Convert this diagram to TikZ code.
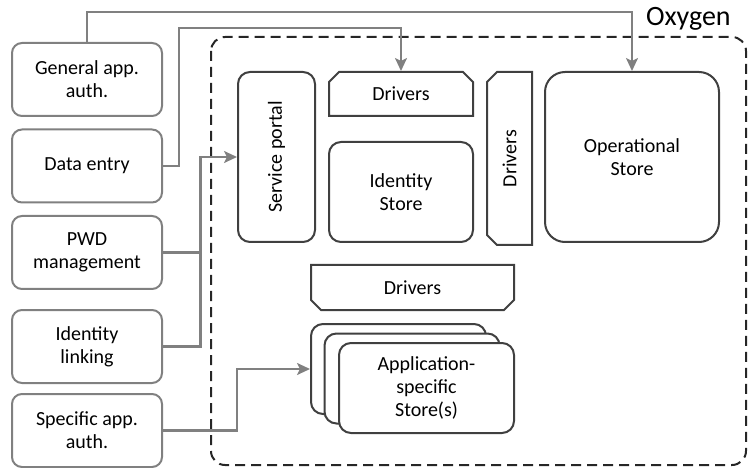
\documentclass[tikz,border=0pt]{standalone}
\usepackage{fontspec}
\setmainfont{Carlito}
\usepackage{tikz}
\usetikzlibrary{calc,shapes.misc,arrows.meta}
\usepackage{color}
\definecolor{linegray}{RGB}{128,128,128}
\definecolor{boxdark}{RGB}{64,64,64}

\begin{document}
\begin{tikzpicture}[x=1pt,y=-1pt]
\tikzstyle{client}=[draw=linegray,line width=2pt,rounded corners=10pt,minimum width=150pt,minimum height=73pt,align=center,font=\fontsize{20}{23}\selectfont]

\tikzstyle{store}=[draw=boxdark,line width=2pt,fill=white,rounded corners=12pt,align=center,font=\fontsize{20}{23}\selectfont]

\tikzstyle{driver}=[draw=boxdark,line width=2pt,chamfered rectangle,chamfered rectangle xsep=5pt,chamfered rectangle ysep=5pt,inner sep=0pt,font=\fontsize{20}{23}\selectfont]

\tikzstyle{conn}=[draw=linegray,line width=2.2pt,-{Stealth[length=13pt,width=12pt,inset=3pt]}]

\useasboundingbox (0,0) rectangle (748,468);

\draw [black!85,line width=2pt,dash pattern=on 10pt off 6pt,rounded corners=14pt] (211,37) rectangle (746,465);
\node (oxygen) [font=\fontsize{28}{32}\selectfont,anchor=west,inner sep=0pt] at (646,19) {Oxygen};

\node (gen) [client] at (87,79.5) {General app.\\auth.};
\node (data) [client] at (87,166) {Data entry};
\node (pwd) [client] at (87,252.5) {PWD\\management};
\node (link) [client] at (87,346.5) {Identity\\linking};
\node (spec) [client] at (87,430.5) {Specific app.\\auth.};

\node (portal) [store,rotate=90,minimum width=170pt,minimum height=77pt] at (276.5,157) {Service portal};
\node (drvA) [driver,chamfered rectangle corners={north west,north east},minimum width=144pt,minimum height=44pt] at (401,94) {Drivers};
\node (ident) [store,minimum width=144pt,minimum height=100pt] at (401,192) {Identity\\Store};
\node (drvB) [driver,rotate=90,chamfered rectangle corners={north west,north east},minimum width=173pt,minimum height=45pt] at (509.5,158.5) {Drivers};
\node (ops) [store,rounded corners=20pt,minimum width=174pt,minimum height=170pt] at (632,157) {Operational\\Store};
\node (drvC) [driver,chamfered rectangle corners={south west,south east},minimum width=203pt,minimum height=45pt] at (412.5,287.5) {Drivers};

\node (appA) [store,minimum width=175pt,minimum height=90pt] at (398.5,369) {};
\node (appB) [store,minimum width=175pt,minimum height=90pt] at (412,378.5) {};
\node (appC) [store,minimum width=175pt,minimum height=90pt] at (426.5,388) {Application-\\specific\\Store(s)};

\draw [conn] (gen.north) -- ++(0,-30) -| (ops.north);
\draw [conn] (data.east) -- ++(16,0) |- ($(drvA.north)+(0,-43)$) -- (drvA.north);
\draw [conn] (pwd.east) -- ++(37.5,0) |- (portal.north);
\draw [draw=linegray,line width=2.2pt] (link.east) -| ($(pwd.east)+(37.5,0)$);
\draw [conn] (spec.east) -- ++(74,0) |- (appA.west);

\end{tikzpicture}
\end{document}
